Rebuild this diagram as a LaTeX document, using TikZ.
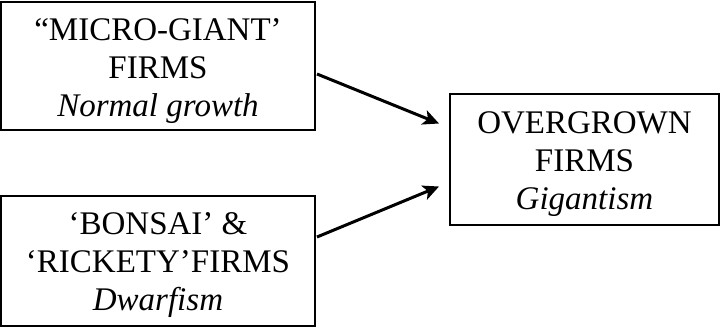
\documentclass[tikz,border=0pt]{standalone}
\usepackage{fontspec}
\setmainfont{Liberation Serif}
\usetikzlibrary{arrows.meta}
\begin{document}
\begin{tikzpicture}[x=1pt,y=-1pt,
  box/.style={draw=black, line width=1.3pt, inner sep=0pt, outer sep=0pt},
  label text/.style={align=center, inner sep=0pt,
    font=\fontsize{33}{38}\selectfont},
  flow/.style={line width=3pt, -{Stealth[length=16pt,width=15pt,inset=4pt]}}]
  \useasboundingbox (0,0) rectangle (721,327);
  % frames
  \node[box, minimum width=314pt, minimum height=128pt] (micro) at (158,66) {};
  \node[box, minimum width=314pt, minimum height=130pt] (bonsai) at (158,261) {};
  \node[box, minimum width=269pt, minimum height=131pt] (over) at (584.5,159.5) {};
  % captions
  \node[label text] (microtext) at ([yshift=-5.5pt]micro.center)
    {“MICRO-GIANT’\\FIRMS\\\textit{Normal growth}};
  \node[label text] (bonsaitext) at ([yshift=-4pt]bonsai.center)
    {‘BONSAI’ \&\\‘RICKETY’FIRMS\\\textit{Dwarfism}};
  \node[label text] (overtext) at ([yshift=-4.5pt]over.center)
    {OVERGROWN\\FIRMS\\\textit{Gigantism}};
  % growth paths
  \draw[flow] ([shift={(2,8)}]micro.east) -- ([shift={(-11,-36)}]over.west);
  \draw[flow] ([shift={(2,-24)}]bonsai.east) -- ([shift={(-11,27)}]over.west);
\end{tikzpicture}
\end{document}
